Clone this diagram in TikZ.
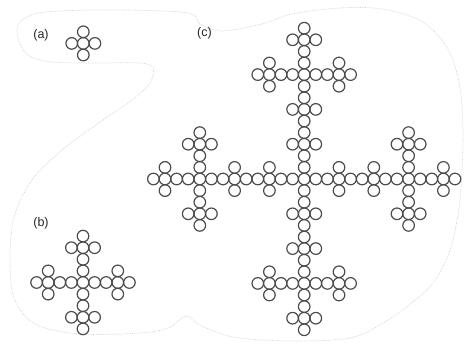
\documentclass[tikz,border=0pt]{standalone}
\usepackage{fontspec}
\setmainfont{Liberation Sans}
\begin{document}
\begin{tikzpicture}[x=1pt, y=-1pt,
    ring/.style={draw=black!70, line width=1.2pt},
    tag/.style={font=\fontsize{12.5}{14}\selectfont, text=black!85, inner sep=0pt},
    blob/.style={draw=black!18, line width=0.7pt, densely dotted}]
  \useasboundingbox (0,0) rectangle (469,350);

  % Faint outline behind the three panels
  \draw[blob] plot[smooth cycle, tension=0.55] coordinates {
    (20,22) (45,12) (120,10) (188,13) (200,24) (222,31) (262,24) (292,14)
    (340,8) (382,9) (421,21) (446,46) (459,82) (463,132) (460,200)
    (450,250) (433,283) (409,305) (383,323) (350,338) (290,341) (233,337)
    (200,325) (186,316) (168,328) (140,333) (80,334) (35,324) (14,298)
    (10,258) (14,217) (32,180) (62,150) (100,122) (132,100) (150,83)
    (153,68) (140,63) (95,63) (52,62) (28,55) (18,38)};

  % Labels
  \node[tag] (la) at (41,35) {(a)};
  \node[tag] (lb) at (41,223) {(b)};
  \node[tag] (lc) at (204.5,33) {(c)};

  % (a) single cross of five rings
  \foreach \u/\v in {0/0,1/0,-1/0,0/1,0/-1}
    \draw[ring] ({83.3+11.6*\u},{43.4+11.6*\v}) circle[radius=5.8pt];

  % (b) five copies of (a)
  \foreach \p/\q in {0/0,3/0,-3/0,0/3,0/-3}
    \foreach \u/\v in {0/0,1/0,-1/0,0/1,0/-1}
      \draw[ring] ({83+11.6*(\p+\u)},{282.5+11.6*(\q+\v)}) circle[radius=5.8pt];

  % (c) five copies of (b)
  \foreach \s/\t in {0/0,9/0,-9/0,0/9,0/-9}
    \foreach \p/\q in {0/0,3/0,-3/0,0/3,0/-3}
      \foreach \u/\v in {0/0,1/0,-1/0,0/1,0/-1}
        \draw[ring] ({304.2+11.6*(\s+\p+\u)},{179+11.6*(\t+\q+\v)}) circle[radius=5.8pt];

\end{tikzpicture}
\end{document}
